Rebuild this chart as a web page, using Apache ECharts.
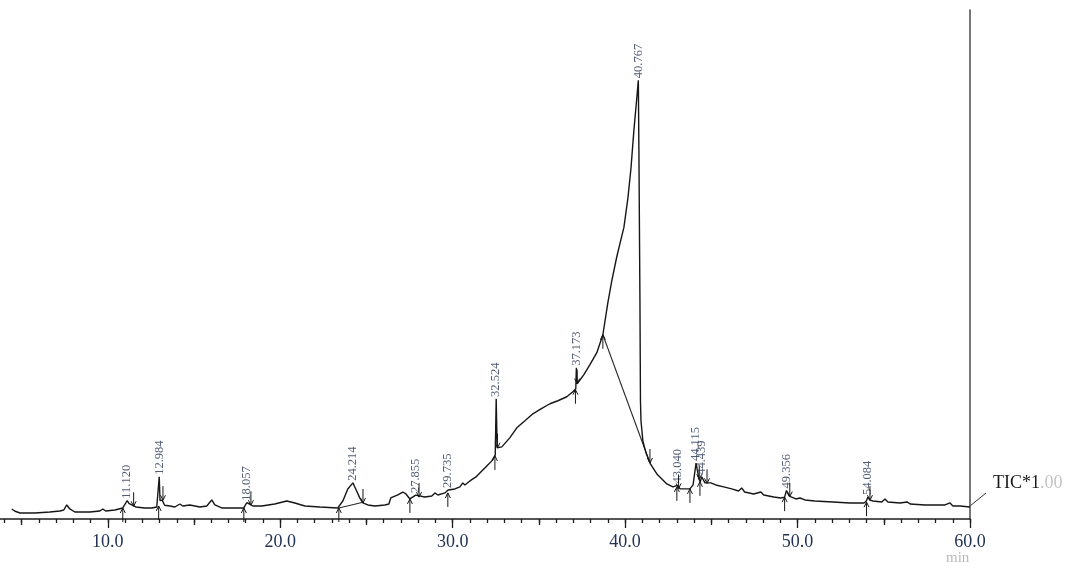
<!DOCTYPE html>
<html>
<head>
<meta charset="utf-8">
<title>TIC chromatogram</title>
<script src="https://cdn.jsdelivr.net/npm/echarts@6/dist/echarts.min.js"></script>
<style>
  html, body { margin: 0; padding: 0; background: #fff; }
  #chart { width: 1068px; height: 569px; }
</style>
</head>
<body>
<div id="chart"></div>
<script>
// Total ion chromatogram: retention time (min) vs. signal (relative units)
const traceTime = [
  4.43, 4.60, 4.90, 5.77, 6.64, 7.22, 7.45, 7.62, 7.80, 8.09, 8.96, 9.54, 9.71, 9.88,
  10.41, 10.87, 11.02, 11.25, 11.39, 11.62, 12.15, 12.55, 12.84, 12.95,
  13.03, 13.15, 13.30, 13.60, 13.89, 14.18, 14.35, 14.76, 15.34, 15.74, 16.03, 16.21,
  16.61, 17.37, 17.89, 18.25, 18.41, 18.93, 19.68, 20.38, 20.85, 21.43, 22.30, 23.34,
  23.63, 23.92, 24.38, 24.62, 24.79, 25.08, 25.49, 26.07, 26.30, 26.41, 26.82, 27.11,
  27.29, 27.52, 27.93, 28.39, 28.79, 28.97, 29.14, 29.55, 30.13, 30.42, 30.59, 30.71,
  31.00, 31.35, 31.69, 31.98, 32.27, 32.47, 32.58, 32.85, 33.31, 33.72, 34.19, 34.65,
  35.12, 35.64, 36.10, 36.62, 36.97, 37.14, 37.22, 37.61, 37.96, 38.36, 38.71, 39.00,
  39.23, 39.52, 39.76, 39.93, 40.16, 40.34, 40.51, 40.63, 40.80, 40.86, 40.89, 40.92,
  41.03, 41.21, 41.44, 41.84, 42.42, 42.77, 43.19, 43.53, 43.76, 43.94, 44.28, 44.36,
  44.63, 44.97, 45.26, 45.72, 46.18, 46.58, 46.76, 46.93, 47.46, 47.87, 48.04, 48.62,
  49.03, 49.25, 49.50, 49.62, 49.90, 50.14, 50.43, 51.00, 52.05, 53.04, 53.85, 53.98,
  54.20, 54.37, 54.89, 55.07, 55.24, 55.94, 56.35, 56.53, 57.39, 58.55, 58.84, 59.01,
  59.42, 60.00
];
const traceSignal = [
  1.97, 1.57, 1.18, 1.18, 1.38, 1.57, 1.77, 2.76, 1.97, 1.38, 1.38, 1.57, 1.97, 1.57,
  1.77, 2.17, 3.00, 3.00, 2.76, 2.36, 2.17, 2.17, 2.36, 2.56,
  3.60, 3.70, 2.70, 2.56, 2.36, 2.95, 2.56, 2.76, 2.36, 2.56, 3.74, 2.76,
  2.17, 2.17, 2.17, 2.90, 2.56, 2.56, 2.95, 3.54, 3.15, 2.56, 2.36, 2.17,
  3.54, 5.90, 5.90, 4.10, 3.15, 2.76, 2.56, 2.76, 2.95, 4.13, 4.72, 5.30,
  4.92, 3.94, 4.33, 4.33, 4.53, 5.12, 4.72, 5.12, 5.90, 6.30, 7.09, 6.69,
  7.48, 8.27, 9.45, 10.43, 11.42, 12.60, 14.00, 14.17, 15.94, 17.91, 19.29, 20.67,
  21.65, 22.64, 23.23, 24.02, 25.00, 25.60, 26.57, 28.35, 30.31, 32.68, 36.20, 42.50,
  46.85, 51.57, 54.92, 57.28, 63.00, 68.90, 76.40, 80.90, 72.40, 42.90, 23.20, 19.30,
  15.35, 13.00, 11.00, 8.86, 6.89, 6.30, 5.91, 5.91, 5.91, 6.70, 7.87, 7.28,
  7.09, 7.09, 6.69, 6.30, 5.91, 5.51, 6.10, 5.31, 4.92, 5.31, 4.72, 4.33,
  4.13, 4.30, 4.60, 4.33, 3.94, 4.13, 3.74, 3.54, 3.35, 3.15, 3.15, 3.50,
  3.70, 3.54, 3.35, 3.94, 3.35, 3.15, 3.35, 2.95, 2.76, 2.76, 3.15, 2.56,
  2.56, 2.36
];

// Integrated peaks (apex retention time and apex signal)
const peakTime = [11.120, 12.984, 18.057, 24.214, 27.855, 29.735, 32.524, 37.173,
                  40.767, 43.040, 44.115, 44.439, 49.356, 54.084];
const peakSignal = [3.6, 8.3, 3.2, 7.1, 4.7, 5.7, 23.6, 29.7,
                    86.2, 6.6, 11.0, 8.3, 5.6, 4.3];

// Integration start (up) and end (down) markers
const startMarkTime = [10.87, 12.95, 17.89, 23.40, 27.52, 29.72, 32.45, 37.12, 38.71, 43.00, 43.76, 44.34, 49.25, 54.00];
const startMarkSignal = [2.17, 2.56, 2.17, 2.17, 3.94, 5.12, 12.40, 25.40, 36.20, 6.30, 5.91, 7.30, 4.30, 3.30];
const endMarkTime = [11.50, 13.20, 18.30, 24.80, 28.05, 32.60, 37.22, 41.44, 43.10, 44.30, 44.75, 49.55, 54.20];
const endMarkSignal = [2.50, 3.70, 2.70, 3.15, 4.30, 14.00, 26.60, 11.00, 6.00, 7.80, 7.00, 4.40, 3.70];

// Drawn baselines under integrated peaks
const baselineFrom = [[23.40, 2.17], [38.71, 36.20]];
const baselineTo = [[24.80, 3.30], [41.44, 11.00]];

// Axis ticks
const minorTicks = [];
for (let t = 4; t <= 60; t++) minorTicks.push(t);
const midTicks = [5, 15, 25, 35, 45, 55];
const majorTicks = [10, 20, 30, 40, 50, 60];

const X_MIN = 3.75, X_MAX = 60;

// merge trace and peak apexes into one time-ordered signal
const trace = traceTime.map((t, i) => [t, traceSignal[i]])
  .concat(peakTime.map((t, i) => [t, peakSignal[i]]))
  .sort((a, b) => a[0] - b[0]);

const serif = 'Liberation Serif, Times New Roman, serif';
const inkColor = '#161616';
const labelBlue = '#243352';

function arrowRender(dir) {
  return function (params, api) {
    const p = api.coord([api.value(0), api.value(1)]);
    const len = 14, head = 5, w = 2.5;
    const tail = p[1] + dir * len;
    const hy = p[1] + dir * head;
    return {
      type: 'group',
      children: [
        { type: 'line', shape: { x1: p[0], y1: tail, x2: p[0], y2: p[1] },
          style: { stroke: inkColor, lineWidth: 1 } },
        { type: 'polyline', shape: { points: [[p[0] - w, hy], [p[0], p[1]], [p[0] + w, hy]] },
          style: { stroke: inkColor, lineWidth: 1, fill: null } }
      ]
    };
  };
}

const chart = echarts.init(document.getElementById('chart'), null, { renderer: 'canvas' });

const tickAxis = (values, len, showLine, showLabel) => ({
  type: 'value', min: X_MIN, max: X_MAX, position: 'bottom',
  axisLine: { show: showLine, onZero: false, lineStyle: { color: '#1e1e1e', width: 1.6 } },
  axisTick: { show: true, inside: false, length: len, customValues: values,
              lineStyle: { color: '#1e1e1e', width: 1.3 } },
  axisLabel: showLabel ? {
    show: true, customValues: majorTicks, margin: 14,
    formatter: v => v.toFixed(1),
    fontFamily: serif, fontSize: 18, color: labelBlue
  } : { show: false },
  splitLine: { show: false }
});

chart.setOption({
  animation: false,
  backgroundColor: '#ffffff',
  grid: { left: 0, right: 98, top: 10, bottom: 50, containLabel: false },
  xAxis: [
    tickAxis(minorTicks, 4, true, false),
    tickAxis(midTicks, 6, false, false),
    tickAxis(majorTicks, 9, false, true)
  ],
  yAxis: {
    type: 'value', min: 0, max: 100, position: 'right',
    axisLine: { show: true, lineStyle: { color: '#4a4a4a', width: 1.5 } },
    axisTick: { show: false }, axisLabel: { show: false }, splitLine: { show: false }
  },
  series: [
    {
      name: 'TIC', type: 'line', data: trace, showSymbol: false, smooth: false,
      lineStyle: { color: inkColor, width: 1.4 }, z: 3
    },
    {
      name: 'baseline', type: 'lines', coordinateSystem: 'cartesian2d',
      data: baselineFrom.map((a, i) => ({ coords: [a, baselineTo[i]] })),
      lineStyle: { color: '#2a2a2a', width: 1.1, opacity: 1 }, z: 2
    },
    {
      name: 'peaks', type: 'scatter', symbolSize: 0,
      data: peakTime.map((t, i) => [t, peakSignal[i]]),
      label: {
        show: true, position: 'top', rotate: 90, align: 'left', verticalAlign: 'middle',
        distance: 2, formatter: p => p.value[0].toFixed(3),
        fontFamily: serif, fontSize: 12.5, color: labelBlue
      },
      z: 4
    },
    {
      name: 'start', type: 'custom', renderItem: arrowRender(1),
      data: startMarkTime.map((t, i) => [t, startMarkSignal[i]]), z: 5
    },
    {
      name: 'end', type: 'custom', renderItem: arrowRender(-1),
      data: endMarkTime.map((t, i) => [t, endMarkSignal[i]]), z: 5
    }
  ],
  graphic: [
    { type: 'line', shape: { x1: 970, y1: 506, x2: 986, y2: 493 },
      style: { stroke: '#333', lineWidth: 1 } },
    { type: 'text', left: 993, top: 474,
      style: { text: '{a|TIC*1}{b|.00}', rich: {
        a: { fontFamily: serif, fontSize: 18, fill: '#1a1a1a' },
        b: { fontFamily: serif, fontSize: 18, fill: '#c4c4c4' } } } },
    { type: 'text', left: 946, top: 551,
      style: { text: 'min', fontFamily: serif, fontSize: 15, fill: '#b8b8b8' } }
  ]
});
</script>
</body>
</html>
